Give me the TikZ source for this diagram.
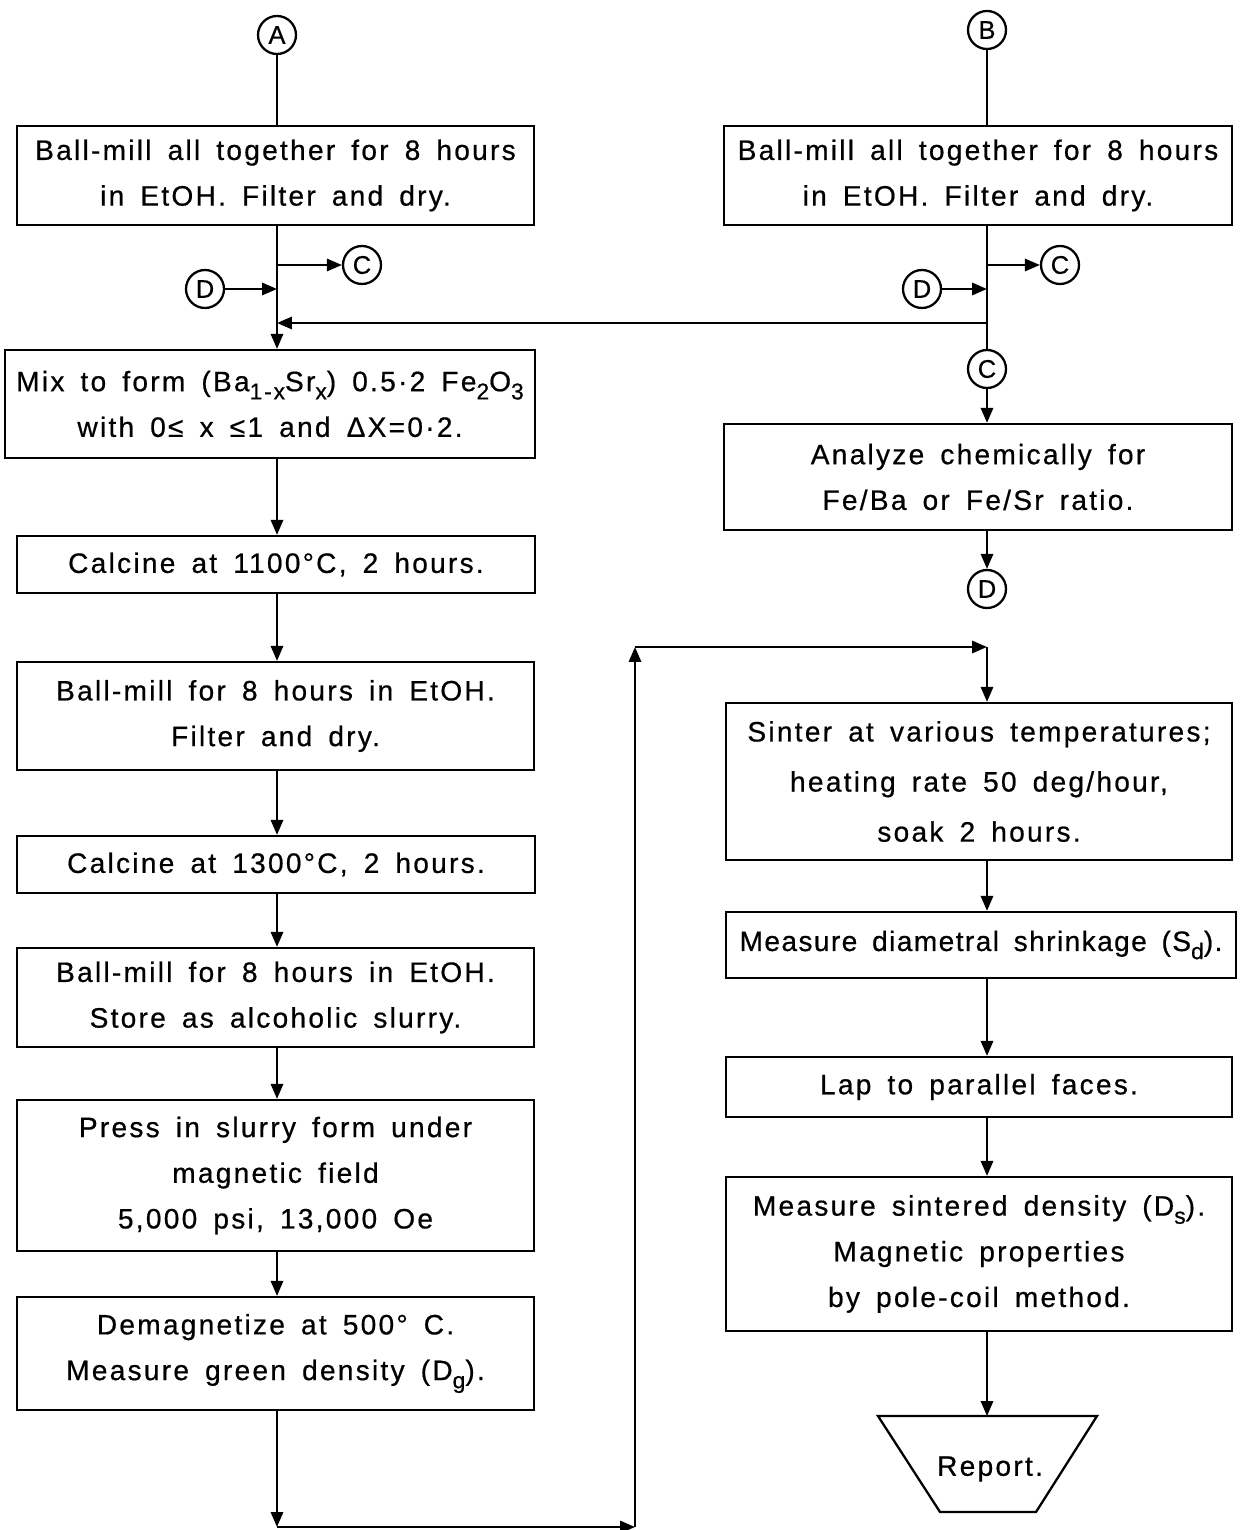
\documentclass[tikz,border=0pt]{standalone}
\usepackage{fontspec}
\setmainfont{Liberation Sans}[LetterSpace=8,WordSpace=1.6,FakeBold=0.6]
\usetikzlibrary{arrows.meta}

\newcommand\dn[1]{\raisebox{-0.55ex}{\fontsize{13}{13}\selectfont #1}}

\tikzset{
  stepbox/.style={draw,line width=1.3pt,align=center,inner sep=0pt,
    font=\fontsize{16}{26}\selectfont},
  conn/.style={draw,circle,line width=1.3pt,minimum size=0.76cm,inner sep=0pt,
    font=\fontsize{14.5}{14.5}\selectfont},
}

\begin{document}
\begin{tikzpicture}[x=0.02cm,y=-0.02cm,line width=1.2pt,>={Triangle[length=8.5pt,width=7pt]}]
  \useasboundingbox (0,0) rectangle (1249,1530);
  % left column
  \node[conn] (A) at (277,35) {A};
  \node[stepbox,minimum width=10.34cm,minimum height=1.98cm] (L1) at (275.5,175.5)
    {Ball-mill all together for 8 hours\\in EtOH. Filter and dry.};
  \node[stepbox,minimum width=10.6cm,minimum height=2.16cm] (L2) at (270,404)
    {Mix to form (Ba\dn{1-x}Sr\dn{x}) 0.5·2 Fe\dn{2}O\dn{3}\\with 0≤ x ≤1 and ΔX=0·2.};
  \node[stepbox,minimum width=10.36cm,minimum height=1.14cm] (L3) at (276,564.5)
    {Calcine at 1100°C, 2 hours.};
  \node[stepbox,minimum width=10.34cm,minimum height=2.16cm] (L4) at (275.5,716)
    {Ball-mill for 8 hours in EtOH.\\Filter and dry.};
  \node[stepbox,minimum width=10.36cm,minimum height=1.14cm] (L5) at (276,864.5)
    {Calcine at 1300°C, 2 hours.};
  \node[stepbox,minimum width=10.34cm,minimum height=1.98cm] (L6) at (275.5,997.5)
    {Ball-mill for 8 hours in EtOH.\\Store as alcoholic slurry.};
  \node[stepbox,minimum width=10.34cm,minimum height=3.02cm] (L7) at (275.5,1175.5)
    {Press in slurry form under\\magnetic field\\5,000 psi, 13,000 Oe};
  \node[stepbox,minimum width=10.34cm,minimum height=2.26cm] (L8) at (275.5,1353.5)
    {Demagnetize at 500° C.\\Measure green density (D\dn{g}).};
  \node[conn] (C1) at (362,265) {C};
  \node[conn] (D1) at (205,289) {D};
  \coordinate (Lc) at (277,265);
  \coordinate (Ld) at (277,289);
  \coordinate (Lj) at (277,323);

  % right column
  \node[conn] (B) at (987,30) {B};
  \node[stepbox,minimum width=10.16cm,minimum height=1.98cm] (R1) at (978,175.5)
    {Ball-mill all together for 8 hours\\in EtOH. Filter and dry.};
  \node[conn] (C2) at (1060,265) {C};
  \node[conn] (D2) at (922,289) {D};
  \coordinate (Rc) at (987,265);
  \coordinate (Rd) at (987,289);
  \coordinate (Rj) at (987,323);
  \node[conn] (C3) at (987,369) {C};
  \node[stepbox,minimum width=10.16cm,minimum height=2.12cm] (R2) at (978,477)
    {Analyze chemically for\\Fe/Ba or Fe/Sr ratio.};
  \node[conn] (D3) at (987,589) {D};
  \node[stepbox,minimum width=10.12cm,minimum height=3.14cm,
    font=\fontsize{16}{28.5}\selectfont] (R3) at (979,781.5)
    {Sinter at various temperatures;\\heating rate 50 deg/hour,\\soak 2 hours.};
  \node[stepbox,minimum width=10.2cm,minimum height=1.32cm,
    font=\fontsize{16}{26}\selectfont\addfontfeatures{LetterSpace=5}] (R4) at (981,945)
    {Measure diametral shrinkage (S\dn{d}).};
  \node[stepbox,minimum width=10.12cm,minimum height=1.2cm] (R5) at (979,1087)
    {Lap to parallel faces.};
  \node[stepbox,minimum width=10.12cm,minimum height=3.08cm] (R6) at (979,1254)
    {Measure sintered density (D\dn{s}).\\Magnetic properties\\by pole-coil method.};
  \draw[line width=1.3pt] (878,1416) -- (1097,1416) -- (1036,1512) -- (940,1512) -- cycle;
  \node[font=\fontsize{16}{26}\selectfont] (rep) at (990,1469) {Report.};
  \coordinate (reptop) at (987,1416);

  % loop from left to right
  \coordinate (Q1) at (277,1527);
  \coordinate (Q2) at (635,1527);
  \coordinate (Q3) at (635,647);
  \coordinate (Q4) at (987,647);

  % connectors, left
  \draw (A) -- (A |- L1.north);
  \draw[->] (A |- L1.south) -- (A |- L2.north);
  \draw[->] (Lc) -- (C1);
  \draw[->] (D1) -- (Ld);
  \draw[->] (Rj) -- (Lj);
  \draw[->] (A |- L2.south) -- (A |- L3.north);
  \draw[->] (A |- L3.south) -- (A |- L4.north);
  \draw[->] (A |- L4.south) -- (A |- L5.north);
  \draw[->] (A |- L5.south) -- (A |- L6.north);
  \draw[->] (A |- L6.south) -- (A |- L7.north);
  \draw[->] (A |- L7.south) -- (A |- L8.north);
  \draw[->] (A |- L8.south) -- (Q1);
  \draw[->] (Q1) -- (Q2);
  \draw[->] (Q2) -- (Q3);
  \draw[->] (Q3) -- (Q4);

  % connectors, right
  \draw (B) -- (B |- R1.north);
  \draw (B |- R1.south) -- (C3);
  \draw[->] (Rc) -- (C2);
  \draw[->] (D2) -- (Rd);
  \draw[->] (C3) -- (C3 |- R2.north);
  \draw[->] (C3 |- R2.south) -- (D3);
  \draw[->] (Q4) -- (Q4 |- R3.north);
  \draw[->] (Q4 |- R3.south) -- (Q4 |- R4.north);
  \draw[->] (Q4 |- R4.south) -- (Q4 |- R5.north);
  \draw[->] (Q4 |- R5.south) -- (Q4 |- R6.north);
  \draw[->] (Q4 |- R6.south) -- (reptop);
\end{tikzpicture}
\end{document}
